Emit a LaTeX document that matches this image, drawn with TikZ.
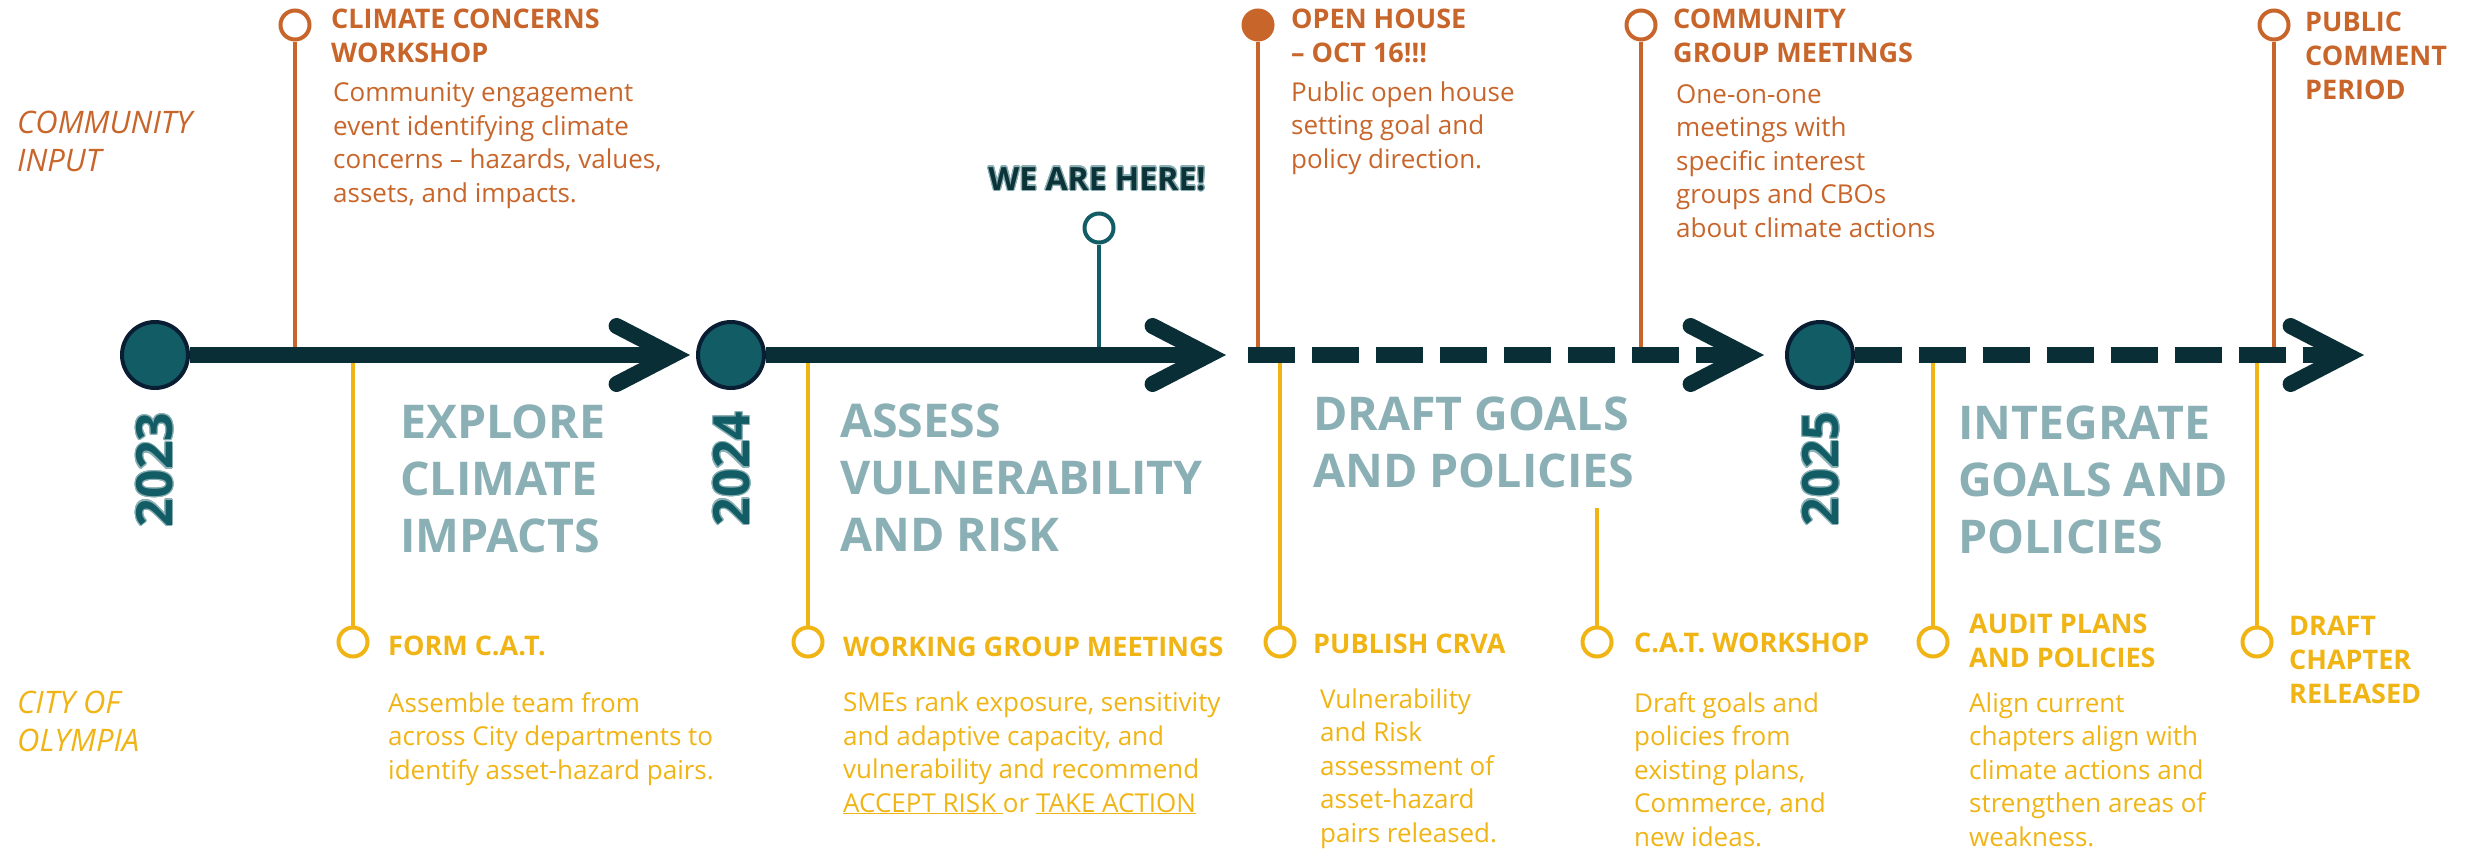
\documentclass[tikz,border=0pt]{standalone}
\usepackage{fontspec}
\setmainfont{Open Sans}
\usepackage[copies]{contour}
\usetikzlibrary{positioning,arrows.meta}
\definecolor{cOrange}{HTML}{C8652A}
\definecolor{cYellow}{HTML}{F0B414}
\definecolor{cLine}{HTML}{0A2E35}
\definecolor{cDot}{HTML}{125D65}
\definecolor{cNavy}{HTML}{0A1E33}
\definecolor{cPhase}{HTML}{8AAFB4}
\definecolor{cHere}{HTML}{0B3338}
\contourlength{1.2pt}
\tikzset{
    axis line/.style={
        line width=16pt,
        draw=cLine
    },
    axis arrow/.style={
        axis line,
        -{Straight Barb[length=56pt,width=58pt,line width=16pt,line cap=round,line join=miter]}
    },
    axis dashed/.style={
        axis arrow,
        dash pattern=on 47pt off 17pt
    },
    year dot/.style={
        circle,
        draw=cNavy,
        fill=cDot,
        line width=4pt,
        minimum size=66pt,
        inner sep=0pt
    },
    event dot/.style={
        circle,
        draw=#1,
        fill=white,
        line width=4pt,
        minimum size=29pt,
        inner sep=0pt
    },
    event stem/.style={draw=#1, line width=4pt},
    % multi-line nodes sit on the baseline of their last line
    event head/.style={
        anchor=base west,
        align=left,
        inner sep=0pt,
        text=#1,
        font=\fontsize{27}{34}\selectfont\bfseries
    },
    event text/.style={
        anchor=base west,
        align=left,
        inner sep=0pt,
        text=#1,
        font=\fontsize{26}{33.5}\selectfont
    },
    side label/.style={
        anchor=base west,
        align=left,
        inner sep=0pt,
        text=#1,
        font=\fontsize{31}{38}\selectfont\itshape
    },
    phase title/.style={
        anchor=base west,
        align=left,
        inner sep=0pt,
        text=cPhase,
        font=\fontsize{46.5}{57}\selectfont\bfseries
    },
    year label/.style={
        rotate=90,
        inner sep=0pt,
        text=cDot,
        font=\fontsize{50}{50}\selectfont\bfseries
    }
}
\begin{document}
\begin{tikzpicture}[x=1pt,y=-1pt]
    \useasboundingbox (0,0) rectangle (2471,852);
    \coordinate (axis) at (0,355);
    % side labels
    \node[side label=cOrange] (input) at (17,171) {COMMUNITY\\INPUT};
    \node[side label=cYellow] (city) at (17,751) {CITY OF\\OLYMPIA};
    % event dots above and below the axis
    \foreach \n/\x in {cc/295,cg/1641,pc/2274}
      \node[event dot=cOrange] (\n) at (\x,25) {};
    \node[event dot=cOrange,fill=cOrange] (oh) at (1258,25) {};
    \node[event dot=cDot] (wh) at (1099,228) {};
    \foreach \n/\x in {fc/353,wg/808,pb/1280,cw/1597,au/1933,dc/2257}
      \node[event dot=cYellow] (\n) at (\x,642) {};
    \coordinate (cw top) at (1597,508);
    \foreach \n in {cc,oh,cg,pc}
      \draw[event stem=cOrange] (\n.south) -- (\n.south |- axis);
    \draw[event stem=cDot] (wh.south) -- (wh.south |- axis);
    \foreach \n in {fc,wg,pb,au,dc}
      \draw[event stem=cYellow] (\n.north) -- (\n.north |- axis);
    \draw[event stem=cYellow] (cw.north) -- (cw top);
    % the axis
    \node[year dot] (y23) at (155,355) {};
    \node[year dot] (y24) at (731,355) {};
    \node[year dot] (y25) at (1820,355) {};
    \coordinate (tip1) at (690,355);
    \coordinate (tip2) at (1226,355);
    \coordinate (dash3) at (1248,355);
    \coordinate (tip3) at (1764,355);
    \coordinate (tip4) at (2364,355);
    \draw[axis arrow] (y23) -- (tip1);
    \draw[axis arrow] (y24) -- (tip2);
    \draw[axis dashed] (dash3) -- (tip3);
    \draw[axis dashed] (y25) -- (tip4);
    % years
    \node[year label] (t23) at (155,470) {\contour{cPhase}{2023}};
    \node[year label] (t24) at (732,469) {\contour{cPhase}{2024}};
    \node[year label] (t25) at (1821,469) {\contour{cPhase}{2025}};
    \node[anchor=base,inner sep=0pt,text=cHere,font=\fontsize{32}{32}\selectfont\bfseries]
      (here) at (1097,190) {\contour{cPhase}{WE ARE HERE!}};
    % phases
    \node[phase title] (ph1) at (400,552) {EXPLORE\\CLIMATE\\IMPACTS};
    \node[phase title] (ph2) at (840,551) {ASSESS\\VULNERABILITY\\AND RISK};
    \node[phase title] (ph3) at (1313,487) {DRAFT GOALS\\AND POLICIES};
    \node[phase title] (ph4) at (1958,553) {INTEGRATE\\GOALS AND\\POLICIES};
    % community input
    \node[event head=cOrange] (cc head) at (331,62) {CLIMATE CONCERNS\\WORKSHOP};
    \node[event text=cOrange] (cc text) at (333,202) {Community engagement\\event identifying climate\\concerns – hazards, values,\\assets, and impacts.};
    \node[event head=cOrange] (oh head) at (1291,62) {OPEN HOUSE\\– OCT 16!!!};
    \node[event text=cOrange] (oh text) at (1291,168) {Public open house\\setting goal and\\policy direction.};
    \node[event head=cOrange] (cg head) at (1673,62) {COMMUNITY\\GROUP MEETINGS};
    \node[event text=cOrange] (cg text) at (1676,237) {One-on-one\\meetings with\\specific interest\\groups and CBOs\\about climate actions};
    \node[event head=cOrange] (pc head) at (2305,99) {PUBLIC\\COMMENT\\PERIOD};
    % city of olympia
    \node[event head=cYellow] (fc head) at (388,655) {FORM C.A.T.};
    \node[event text=cYellow] (fc text) at (388,779) {Assemble team from\\across City departments to\\identify asset-hazard pairs.};
    \node[event head=cYellow] (wg head) at (843,656) {WORKING GROUP MEETINGS};
    \node[event text=cYellow] (wg text) at (843,812) {SMEs rank exposure, sensitivity\\and adaptive capacity, and\\vulnerability and recommend\\\underline{ACCEPT RISK }or \underline{TAKE ACTION}};
    \node[event head=cYellow] (pb head) at (1313,653) {PUBLISH CRVA};
    \node[event text=cYellow] (pb text) at (1320,842) {Vulnerability\\and Risk\\assessment of\\asset-hazard\\pairs released.};
    \node[event head=cYellow] (cw head) at (1634,652) {C.A.T. WORKSHOP};
    \node[event text=cYellow] (cw text) at (1634,846) {Draft goals and\\policies from\\existing plans,\\Commerce, and\\new ideas.};
    \node[event head=cYellow] (au head) at (1969,667) {AUDIT PLANS\\AND POLICIES};
    \node[event text=cYellow] (au text) at (1969,846) {Align current\\chapters align with\\climate actions and\\strengthen areas of\\weakness.};
    \node[event head=cYellow] (dc head) at (2289,703) {DRAFT\\CHAPTER\\RELEASED};
\end{tikzpicture}
\end{document}
